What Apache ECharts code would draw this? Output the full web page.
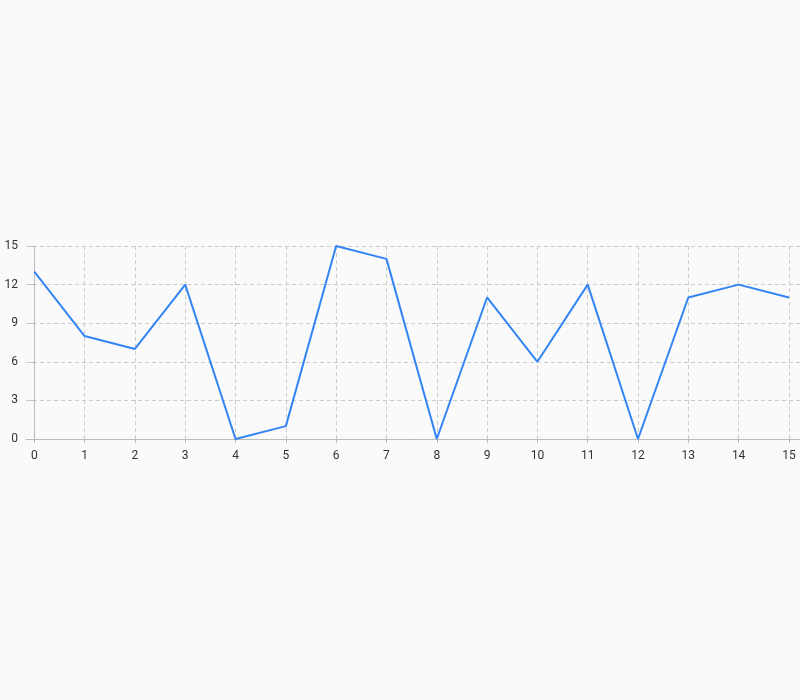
<!DOCTYPE html>
<html>
<head>
<meta charset="utf-8">
<script src="https://cdn.jsdelivr.net/npm/echarts@6/dist/echarts.min.js"></script>
<style>
  html, body { margin: 0; padding: 0; background: #fafafa; }
  #chart { width: 800px; height: 700px; }
</style>
</head>
<body>
<div id="chart"></div>
<script>
const xValues = [0, 1, 2, 3, 4, 5, 6, 7, 8, 9, 10, 11, 12, 13, 14, 15];
const yValues = [13, 8, 7, 12, 0, 1, 15, 14, 0, 11, 6, 12, 0, 11, 12, 11];

const chart = echarts.init(document.getElementById('chart'));

chart.setOption({
  backgroundColor: '#fafafa',
  animation: false,
  textStyle: { fontFamily: 'Roboto, sans-serif' },
  grid: { left: 26, right: 0, top: 246, bottom: 261, containLabel: false },
  xAxis: {
    type: 'value',
    min: -0.165,
    max: 15.22,
    axisLine: { show: true, onZero: false, lineStyle: { color: '#bbbbbb' } },
    axisTick: { show: true, length: 4, customValues: xValues, lineStyle: { color: '#bbbbbb' } },
    axisLabel: { customValues: xValues, color: '#333333', fontSize: 12, margin: 11 },
    splitLine: { show: true, lineStyle: { color: '#cccccc', type: [4, 3] } }
  },
  yAxis: {
    type: 'value',
    min: 0,
    max: 15,
    interval: 3,
    axisLine: { show: true, lineStyle: { color: '#bbbbbb' } },
    axisTick: { show: true, length: 4, lineStyle: { color: '#bbbbbb' } },
    axisLabel: { color: '#333333', fontSize: 12, margin: 8, padding: [2, 0, 0, 0] },
    splitLine: { show: true, lineStyle: { color: '#cccccc', type: [4, 3] } }
  },
  series: [
    {
      type: 'line',
      data: xValues.map((x, i) => [x, yValues[i]]),
      symbol: 'none',
      lineStyle: { color: '#3385f6', width: 2 }
    }
  ]
});
</script>
</body>
</html>
